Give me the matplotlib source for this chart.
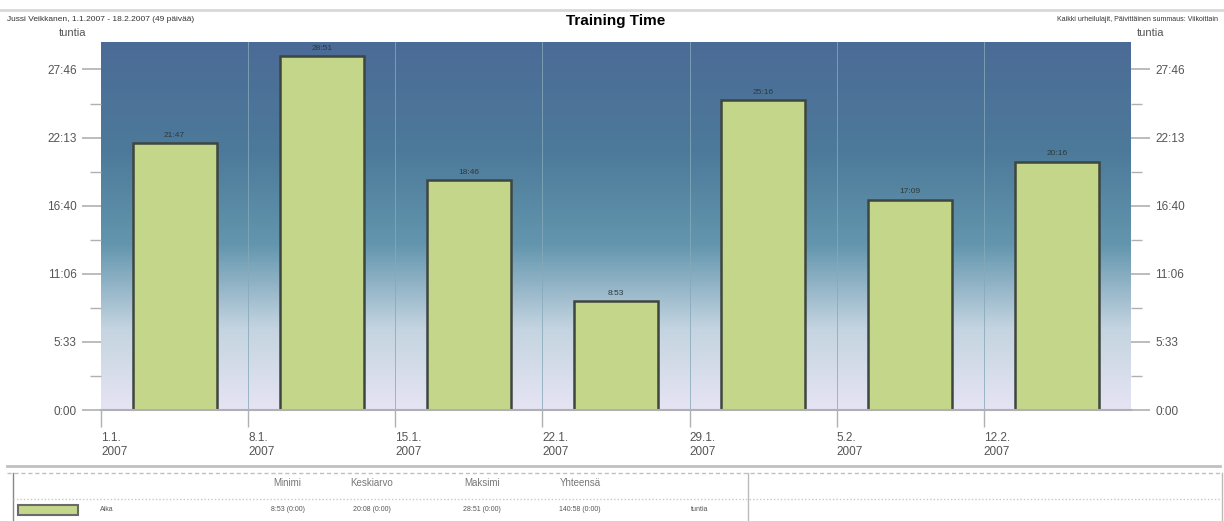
import numpy as np
import matplotlib.pyplot as plt
from matplotlib.colors import LinearSegmentedColormap
from matplotlib.patches import Rectangle
from matplotlib.lines import Line2D

plt.rcParams['font.family'] = ['Liberation Sans', 'DejaVu Sans']

# viikkojen alut (päivinä 1.1. alkaen) ja tunnit
tick_days = [0, 7, 14, 21, 28, 35, 42]
tick_labels = ["1.1.\n2007", "8.1.\n2007", "15.1.\n2007", "22.1.\n2007",
               "29.1.\n2007", "5.2.\n2007", "12.2.\n2007"]
bar_labels = ["21:47", "28:51", "18:46", "8:53", "25:16", "17:09", "20:16"]
y_tick_labels = ["0:00", "5:33", "11:06", "16:40", "22:13", "27:46"]

stat_names = ["Minimi", "Keskiarvo", "Maksimi", "Yhteensä"]
stat_values = ["8:53 (0:00)", "20:08 (0:00)", "28:51 (0:00)", "140:58 (0:00)"]

def to_hours(s):
    h, m = s.split(":")
    return int(h) + int(m) / 60

hours = np.array([to_hours(s) for s in bar_labels])
centers = np.array(tick_days) + 3.5
step = 5 + 5 / 9  # 5:33:20
y_ticks = np.arange(len(y_tick_labels)) * step

fig = plt.figure(figsize=(12.24, 5.21), dpi=100)
ax = fig.add_axes([0.0825, 0.213, 0.8415, 0.706])

# taustan liukuväri
cmap = LinearSegmentedColormap.from_list(
    "bg", [(0, "#e6e4f4"), (0.22, "#c4d4e0"), (0.45, "#6396ae"),
           (0.7, "#4d7a9a"), (1, "#4b6b97")])
grad = np.linspace(0, 1, 256).reshape(-1, 1)
ax.imshow(grad, cmap=cmap, origin="lower", aspect="auto",
          extent=[0, 49, 0, 30], zorder=0)

for d in tick_days[1:]:
    ax.axvline(d, color="#86a9ba", lw=0.7, alpha=0.8, zorder=1)

ax.bar(centers, hours, width=4, color="#c4d68a", edgecolor="#3e4640",
       linewidth=1.8, zorder=2)
for x, h, s in zip(centers, hours, bar_labels):
    ax.text(x, h + 0.35, s, ha="center", va="bottom", fontsize=6,
            color="#2c3a3c", zorder=3)

ax.set_xlim(0, 49)
ax.set_ylim(0, 30)
ax.set_xticks(tick_days)
ax.set_xticklabels(tick_labels, ha="left", fontsize=8.5, color="#555555")
ax.set_yticks(y_ticks)
ax.set_yticklabels(y_tick_labels, fontsize=8.5, color="#555555")
ax.set_yticks(y_ticks[:-1] + step / 2, minor=True)
ax.tick_params(axis="y", which="both", left=True, right=True,
               labelleft=True, labelright=True, color="#b0b0b0")
ax.tick_params(axis="y", which="major", length=14, width=1.2)
ax.tick_params(axis="y", which="minor", length=8, width=1)
ax.tick_params(axis="x", length=12, color="#b0b0b0", width=1, pad=4)
for sp in ["top", "left", "right"]:
    ax.spines[sp].set_visible(False)
ax.spines["bottom"].set_color("#b0b0b0")
ax.spines["bottom"].set_linewidth(1.5)

# otsikot
fig.add_artist(Line2D([0.0, 1.0], [0.98, 0.98], color="#d8d8d8", lw=2))
fig.text(0.006, 0.963, "Jussi Veikkanen, 1.1.2007 - 18.2.2007 (49 päivää)",
         fontsize=6, color="#333333", va="center")
fig.text(0.503, 0.960, "Training Time", fontsize=11, fontweight="bold",
         ha="center", va="center")
fig.text(0.995, 0.963, "Kaikki urheilulajit, Päivittäinen summaus: Viikoittain",
         fontsize=5, color="#333333", va="center", ha="right")
fig.text(0.059, 0.936, "tuntia", fontsize=8, color="#555555", va="center",
         ha="center")
fig.text(0.940, 0.936, "tuntia", fontsize=8, color="#555555", va="center",
         ha="center")

# alareunan taulukko
fig.add_artist(Line2D([0.006, 0.997], [0.105, 0.105], color="#c0c0c0", lw=2))
fig.add_artist(Line2D([0.006, 0.997], [0.093, 0.093], color="#c0c0c0", lw=1,
                      ls=(0, (3, 2))))
fig.add_artist(Line2D([0.011, 0.011], [0.0, 0.093], color="#888888", lw=1))
fig.add_artist(Line2D([0.611, 0.611], [0.0, 0.093], color="#bbbbbb", lw=1))
fig.add_artist(Line2D([0.998, 0.998], [0.0, 0.093], color="#bbbbbb", lw=1))
fig.add_artist(Line2D([0.011, 0.997], [0.042, 0.042], color="#c8c8c8", lw=1,
                      ls=(0, (1, 1.5))))
stat_x = [0.235, 0.304, 0.394, 0.474]
for x, n, v in zip(stat_x, stat_names, stat_values):
    fig.text(x, 0.072, n, fontsize=7, color="#777777", ha="center",
             va="center")
    fig.text(x, 0.022, v, fontsize=5, color="#555555", ha="center",
             va="center")
fig.add_artist(Rectangle((0.015, 0.012), 0.049, 0.018, facecolor="#c4d68a",
                         edgecolor="#6a6a6a", lw=1.5))
fig.text(0.082, 0.022, "Aika", fontsize=5, color="#555555", va="center")
fig.text(0.572, 0.022, "tuntia", fontsize=5, color="#555555", va="center",
         ha="center")

fig.savefig("out.png", dpi=100)
